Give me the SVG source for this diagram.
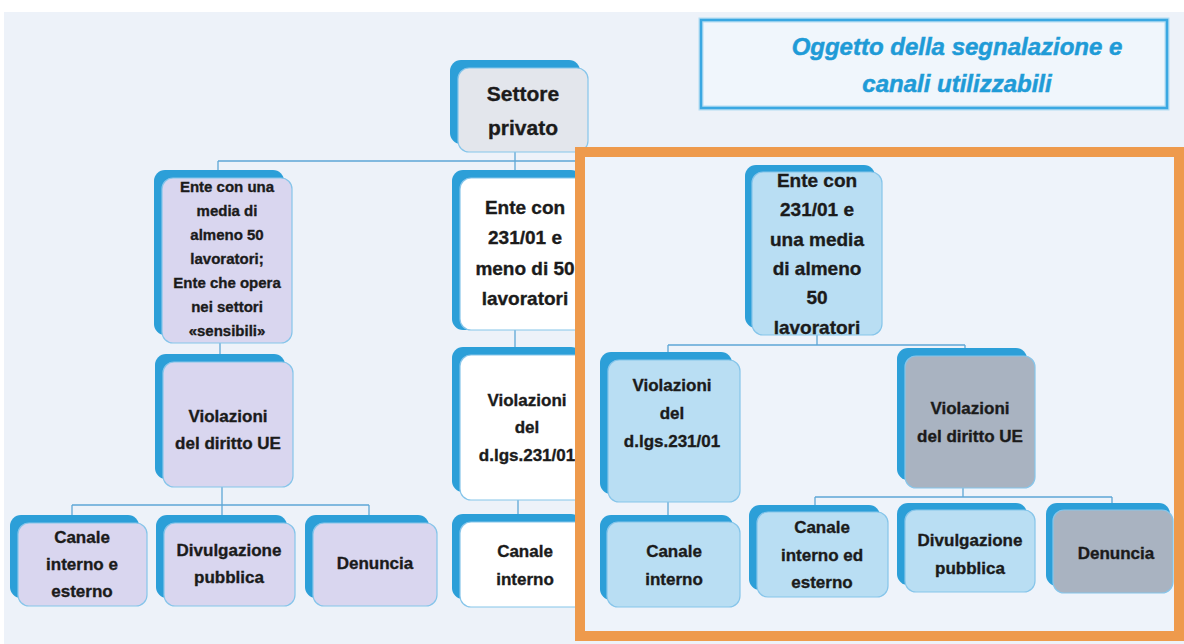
<svg xmlns="http://www.w3.org/2000/svg" width="1184" height="644" viewBox="0 0 1184 644">
<defs>
<style>
.bg{fill:#edf2f9}
.back{fill:#2c9fd8}
.front{stroke:#86c5ea;stroke-width:1.2}
.lav{fill:#d9d6ef}
.gry{fill:#e3e6ec}
.wht{fill:#ffffff}
.lb{fill:#b9def3}
.gr{fill:#a9b3c1}
.t{font-family:"Liberation Sans",Arial,sans-serif;font-weight:bold;fill:#1b1b1b;stroke:#1b1b1b;stroke-width:0.35;text-anchor:middle}
.s15{font-size:15px}
.s17{font-size:17px}
.s19{font-size:19px}
.s21{font-size:21px}
.conn{stroke:#5ea7d6;stroke-width:1.3;fill:none}
.title{font-family:"Liberation Sans",Arial,sans-serif;font-weight:bold;font-style:italic;font-size:24px;fill:#1f9bd7;stroke:#1f9bd7;stroke-width:0.5;text-anchor:middle}
</style>
</defs>
<rect x="0" y="0" width="1184" height="644" fill="#ffffff"/>
<rect class="bg" x="4" y="12" width="1180" height="632"/>

<g id="connectors">
<path class="conn" d="M515 152 V178 M218 161 H580 M218 161 V172"/>
<path class="conn" d="M220 343 V362"/>
<path class="conn" d="M222 487 V523 M72 505 H369 M72 505 V517 M369 505 V517"/>
<path class="conn" d="M515 330 V355 M518 500 V522"/>
</g>

<g id="n-settore">
<rect class="back" x="450" y="60" width="130" height="84" rx="11"/>
<rect class="front gry" x="458" y="68" width="130" height="84" rx="11"/>
<text class="t s21" x="523" y="101">Settore</text>
<text class="t s21" x="523" y="135">privato</text>
</g>

<g id="n-ente1">
<rect class="back" x="154" y="170" width="130" height="165" rx="11"/>
<rect class="front lav" x="162" y="178" width="130" height="165" rx="11"/>
<text class="t s15" x="227" y="192">Ente con una</text>
<text class="t s15" x="227" y="216">media di</text>
<text class="t s15" x="227" y="240">almeno 50</text>
<text class="t s15" x="227" y="264">lavoratori;</text>
<text class="t s15" x="227" y="288">Ente che opera</text>
<text class="t s15" x="227" y="312">nei settori</text>
<text class="t s15" x="227" y="336">«sensibili»</text>
</g>

<g id="n-violue1">
<rect class="back" x="155" y="354" width="130" height="125" rx="11"/>
<rect class="front lav" x="163" y="362" width="130" height="125" rx="11"/>
<text class="t s17" x="228" y="422">Violazioni</text>
<text class="t s17" x="228" y="449">del diritto UE</text>
</g>

<g id="n-canale-ie1">
<rect class="back" x="10" y="515" width="129" height="83" rx="11"/>
<rect class="front lav" x="18" y="523" width="129" height="83" rx="11"/>
<text class="t s17" x="82" y="543">Canale</text>
<text class="t s17" x="82" y="570">interno e</text>
<text class="t s17" x="82" y="597">esterno</text>
</g>

<g id="n-divulg1">
<rect class="back" x="156" y="515" width="131" height="83" rx="11"/>
<rect class="front lav" x="164" y="523" width="131" height="83" rx="11"/>
<text class="t s17" x="229" y="556">Divulgazione</text>
<text class="t s17" x="229" y="583">pubblica</text>
</g>

<g id="n-denuncia1">
<rect class="back" x="305" y="515" width="124" height="83" rx="11"/>
<rect class="front lav" x="313" y="523" width="124" height="83" rx="11"/>
<text class="t s17" x="375" y="569">Denuncia</text>
</g>

<g id="n-ente2">
<rect class="back" x="452" y="170" width="130" height="160" rx="11"/>
<rect class="front wht" x="460" y="178" width="130" height="152" rx="11"/>
<text class="t s19" x="525" y="214">Ente con</text>
<text class="t s19" x="525" y="244">231/01 e</text>
<text class="t s19" x="525" y="275">meno di 50</text>
<text class="t s19" x="525" y="305">lavoratori</text>
</g>

<g id="n-viol231-2">
<rect class="back" x="452" y="347" width="130" height="145" rx="11"/>
<rect class="front wht" x="460" y="355" width="130" height="145" rx="11"/>
<text class="t s17" x="527" y="406">Violazioni</text>
<text class="t s17" x="527" y="433">del</text>
<text class="t s17" x="527" y="461">d.lgs.231/01</text>
</g>

<g id="n-canale-int2">
<rect class="back" x="452" y="514" width="130" height="85" rx="11"/>
<rect class="front wht" x="460" y="522" width="130" height="85" rx="11"/>
<text class="t s17" x="525" y="557">Canale</text>
<text class="t s17" x="525" y="585">interno</text>
</g>

<g id="frame">
<rect x="580" y="152" width="599" height="484" fill="#eef3fa" stroke="#ee9a4c" stroke-width="10"/>
</g>

<g id="title">
<rect x="701" y="20" width="466" height="88" fill="#f0f6fc" stroke="#b4dcf2" stroke-width="5"/>
<rect x="701" y="20" width="466" height="88" fill="none" stroke="#3aa8e2" stroke-width="2.5"/>
<text class="title" x="957" y="55">Oggetto della segnalazione e</text>
<text class="title" x="957" y="92">canali utilizzabili</text>
</g>

<g id="connectors-right">
<path class="conn" d="M817 335 V345 M668 345 H965 M668 345 V353 M965 345 V349"/>
<path class="conn" d="M668 502 V515"/>
<path class="conn" d="M963 488 V497 M815 497 H1112 M815 497 V505 M1112 497 V503"/>
</g>

<g id="n-ente3">
<rect class="back" x="745" y="165" width="130" height="163" rx="11"/>
<rect class="front lb" x="752" y="172" width="130" height="163" rx="11"/>
<text class="t s19" x="817" y="187">Ente con</text>
<text class="t s19" x="817" y="216">231/01 e</text>
<text class="t s19" x="817" y="246">una media</text>
<text class="t s19" x="817" y="275">di almeno</text>
<text class="t s19" x="817" y="304">50</text>
<text class="t s19" x="817" y="334">lavoratori</text>
</g>

<g id="n-viol231-3">
<rect class="back" x="600" y="352" width="132" height="142" rx="11"/>
<rect class="front lb" x="608" y="360" width="132" height="142" rx="11"/>
<text class="t s17" x="672" y="391">Violazioni</text>
<text class="t s17" x="672" y="419">del</text>
<text class="t s17" x="672" y="447">d.lgs.231/01</text>
</g>

<g id="n-violue3">
<rect class="back" x="897" y="348" width="130" height="132" rx="11"/>
<rect class="front gr" x="905" y="356" width="130" height="132" rx="11"/>
<text class="t s17" x="970" y="414">Violazioni</text>
<text class="t s17" x="970" y="442">del diritto UE</text>
</g>

<g id="n-canale-int3">
<rect class="back" x="600" y="515" width="133" height="85" rx="11"/>
<rect class="front lb" x="607" y="522" width="133" height="85" rx="11"/>
<text class="t s17" x="674" y="557">Canale</text>
<text class="t s17" x="674" y="585">interno</text>
</g>

<g id="n-canale-ied3">
<rect class="back" x="749" y="505" width="131" height="85" rx="11"/>
<rect class="front lb" x="757" y="512" width="131" height="85" rx="11"/>
<text class="t s17" x="822" y="533">Canale</text>
<text class="t s17" x="822" y="561">interno ed</text>
<text class="t s17" x="822" y="588">esterno</text>
</g>

<g id="n-divulg3">
<rect class="back" x="897" y="503" width="130" height="82" rx="11"/>
<rect class="front lb" x="905" y="510" width="130" height="82" rx="11"/>
<text class="t s17" x="970" y="546">Divulgazione</text>
<text class="t s17" x="970" y="574">pubblica</text>
</g>

<g id="n-denuncia3">
<rect class="back" x="1046" y="503" width="124" height="83" rx="11"/>
<rect class="front gr" x="1053" y="510" width="120" height="83" rx="11"/>
<text class="t s17" x="1116" y="559">Denuncia</text>
</g>
</svg>
